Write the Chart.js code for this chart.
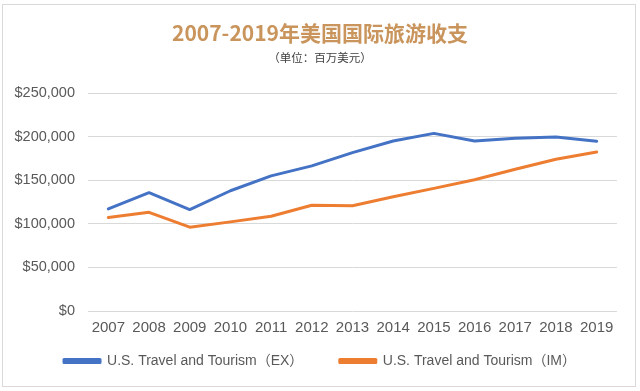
<!DOCTYPE html>
<html>
<head>
<meta charset="utf-8">
<script src="https://cdn.jsdelivr.net/npm/chart.js@4"></script>
<style>
    html, body { margin: 0; padding: 0; background: #ffffff; }
    #wrap { position: relative; width: 640px; height: 391px; }
    #frame {
        position: absolute; left: 2px; top: 4px; width: 632px; height: 381px;
        border: 1px solid #d9d9d9; pointer-events: none;
    }
</style>
</head>
<body>
<div id="wrap">
    <canvas id="travel-chart" width="640" height="391"></canvas>
    <div id="frame"></div>
</div>
<script>
// Data (millions USD)
const years = ['2007', '2008', '2009', '2010', '2011', '2012', '2013', '2014', '2015', '2016', '2017', '2018', '2019'];
const exportsEX = [117100, 135700, 116300, 137900, 155000, 166400, 181600, 194900, 203700, 194900, 198000, 199500, 194600];
const importsIM = [107200, 113200, 96100, 102200, 108700, 121200, 120800, 131100, 140600, 150500, 162600, 174000, 182400];
const seriesLabels = ['U.S. Travel and Tourism（EX）', 'U.S. Travel and Tourism（IM）'];
const yTicks = [0, 50000, 100000, 150000, 200000, 250000];

const blue = '#4472c4';
const orange = '#ed7d31';
const textGray = '#595959';
const fontFamily = '"Liberation Sans", Arial, "Noto Sans CJK SC", sans-serif';

const ctx = document.getElementById('travel-chart');

new Chart(ctx, {
    type: 'line',
    data: {
        labels: years,
        datasets: [{
            label: seriesLabels[0],
            data: exportsEX,
            borderColor: blue,
            backgroundColor: blue,
            borderWidth: 3,
            pointRadius: 0,
            tension: 0,
            borderCapStyle: 'round',
            borderJoinStyle: 'round'
        }, {
            label: seriesLabels[1],
            data: importsIM,
            borderColor: orange,
            backgroundColor: orange,
            borderWidth: 3,
            pointRadius: 0,
            tension: 0,
            borderCapStyle: 'round',
            borderJoinStyle: 'round'
        }]
    },
    options: {
        responsive: false,
        animation: false,
        layout: {
            padding: { left: 1, right: 1, top: 10, bottom: 13 }
        },
        plugins: {
            title: {
                display: true,
                text: '2007-2019年美国国际旅游收支',
                color: '#c9955c',
                font: { family: '"Noto Sans CJK SC", sans-serif', size: 21, weight: 'bold' },
                padding: { top: 10, bottom: 6 }
            },
            subtitle: {
                display: true,
                text: '（单位：百万美元）',
                color: '#404040',
                font: { family: '"Noto Sans CJK SC", sans-serif', size: 11.5 },
                padding: { top: 0, bottom: 28 }
            },
            legend: {
                position: 'bottom',
                labels: {
                    boxWidth: 36,
                    boxHeight: 3,
                    padding: 17,
                    color: textGray,
                    font: { family: fontFamily, size: 14 },
                    // widen the gap after the first entry, like the original legend
                    generateLabels: (chart) => {
                        const items = Chart.defaults.plugins.legend.labels.generateLabels(chart);
                        items[0].text = items[0].text + '     ';
                        return items;
                    }
                }
            },
            tooltip: { enabled: false }
        },
        scales: {
            x: {
                offset: true,
                grid: { display: false },
                border: { display: false },
                ticks: {
                    color: textGray,
                    padding: 0,
                    maxRotation: 0,
                    autoSkip: false,
                    font: { family: fontFamily, size: 15 }
                }
            },
            y: {
                min: yTicks[0],
                max: yTicks[yTicks.length - 1],
                afterBuildTicks: (axis) => {
                    axis.ticks = yTicks.map(v => ({ value: v }));
                },
                afterFit: (axis) => {
                    axis.width = 87;
                },
                grid: { color: '#d9d9d9', lineWidth: 1, drawTicks: false },
                border: { display: false },
                ticks: {
                    color: textGray,
                    padding: 13,
                    font: { family: fontFamily, size: 14.5 },
                    callback: (value) => '$' + Number(value).toLocaleString('en-US')
                }
            },
            // empty right-hand spacer so the plot ends where the original does
            spacer: {
                type: 'linear',
                position: 'right',
                grid: { display: false },
                border: { display: false },
                ticks: { display: false },
                afterFit: (axis) => {
                    axis.width = 22;
                }
            }
        }
    }
});
</script>
</body>
</html>
